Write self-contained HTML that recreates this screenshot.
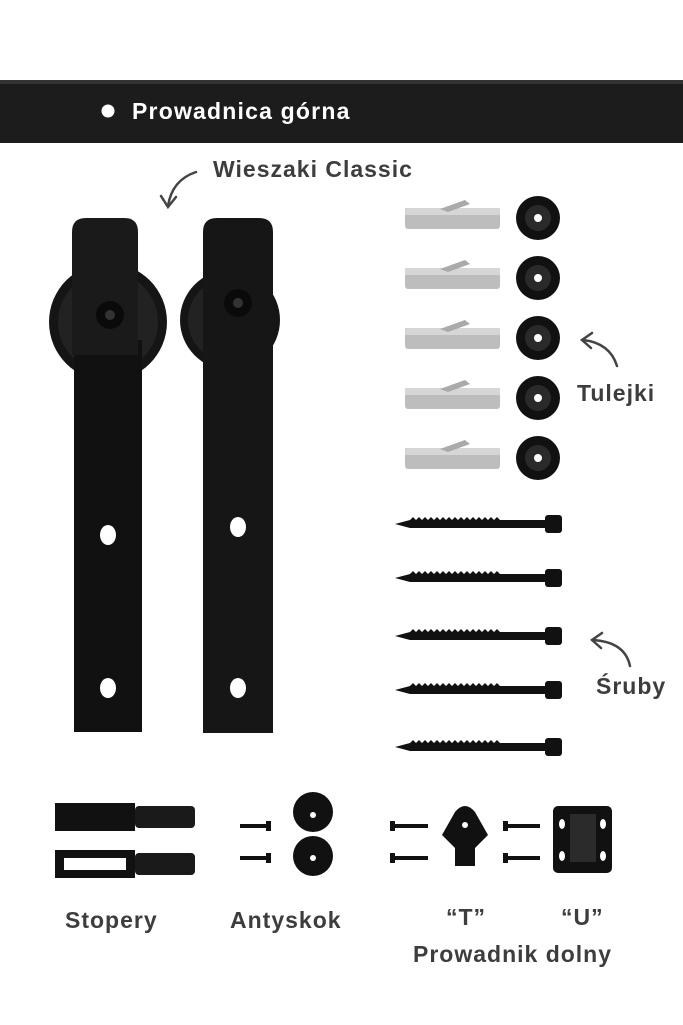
<!DOCTYPE html>
<html><head><meta charset="utf-8"><style>
html,body{margin:0;padding:0;background:#fff;}
svg{display:block}
text{font-family:"Liberation Sans",sans-serif;font-weight:bold;}
</style></head><body>
<svg width="683" height="1025" viewBox="0 0 683 1025" xmlns="http://www.w3.org/2000/svg">
<rect width="683" height="1025" fill="#fff"/>
<rect x="0" y="80" width="683" height="63" fill="#1c1c1c"/>
<rect x="0" y="80" width="683" height="4" fill="#333"/>
<circle cx="108" cy="111" r="6.5" fill="#fff"/>
<text x="132" y="119" font-size="23" letter-spacing="1.2" fill="#fff">Prowadnica górna</text>

<g fill="#3d3d3d" font-size="23" letter-spacing="1">
<text x="213" y="177">Wieszaki Classic</text>
<text x="577" y="401">Tulejki</text>
<text x="596" y="694">Śruby</text>
<text x="65" y="928">Stopery</text>
<text x="230" y="928">Antyskok</text>
<text x="446" y="925">“T”</text>
<text x="561" y="925">“U”</text>
<text x="413" y="962">Prowadnik dolny</text>
</g>
<g fill="none" stroke="#444" stroke-width="2.5" stroke-linecap="round">
<path d="M196 172 Q172 180 168 206"/><path d="M161 196 L168 207 L176 197"/>
<path d="M617 366 Q610 343 583 340"/><path d="M592 333 L582 340 L591 348"/>
<path d="M630 666 Q625 642 593 640"/><path d="M602 633 L592 640 L601 648"/>
</g>

<circle cx="108" cy="322" r="59" fill="#151515"/>
<circle cx="108" cy="322" r="50" fill="#222"/>
<rect x="74" y="340" width="68" height="392" fill="#111"/>
<path d="M72 355 L72 232 Q72 218 86 218 L124 218 Q138 218 138 232 L138 355 Z" fill="#1a1a1a"/>
<circle cx="110" cy="315" r="14" fill="#0a0a0a"/>
<circle cx="110" cy="315" r="5" fill="#333"/>
<ellipse cx="108" cy="535" rx="8" ry="10" fill="#fff"/>
<ellipse cx="108" cy="688" rx="8" ry="10" fill="#fff"/>

<circle cx="230" cy="320" r="50" fill="#151515"/>
<circle cx="230" cy="320" r="42" fill="#222"/>
<path d="M203 232 Q203 218 217 218 L259 218 Q273 218 273 232 L273 733 L203 733 Z" fill="#161616"/>
<circle cx="238" cy="303" r="14" fill="#0a0a0a"/>
<circle cx="238" cy="303" r="5" fill="#333"/>
<ellipse cx="238" cy="527" rx="8" ry="10" fill="#fff"/>
<ellipse cx="238" cy="688" rx="8" ry="10" fill="#fff"/>

<g id="anc">
<rect x="405" y="208" width="95" height="21" rx="3" fill="#bdbdbd"/>
<rect x="405" y="208" width="95" height="7" fill="#d6d6d6"/>
<path d="M440 209 L465 200 L470 204 L448 212 Z" fill="#aaa"/>
<circle cx="538" cy="218" r="22" fill="#111"/>
<circle cx="538" cy="218" r="13" fill="#2a2a2a"/>
<circle cx="538" cy="218" r="4" fill="#fff"/>
</g>
<use href="#anc" y="60"/><use href="#anc" y="120"/><use href="#anc" y="180"/><use href="#anc" y="240"/>

<g id="scr">
<path d="M395 524 L410 520 L545 520 L545 528 L410 528 Z" fill="#111"/>
<path d="M410 520 l3 -3 l3 3 l3 -3 l3 3 l3 -3 l3 3 l3 -3 l3 3 l3 -3 l3 3 l3 -3 l3 3 l3 -3 l3 3 l3 -3 l3 3 l3 -3 l3 3 l3 -3 l3 3 l3 -3 l3 3 l3 -3 l3 3 l3 -3 l3 3 l3 -3 l3 3 l3 -3 l3 3 Z" fill="#111"/>
<rect x="545" y="515" width="17" height="18" rx="3" fill="#111"/>
</g>
<use href="#scr" y="54"/><use href="#scr" y="112"/><use href="#scr" y="166"/><use href="#scr" y="223"/>

<rect x="55" y="803" width="80" height="28" fill="#111"/>
<rect x="135" y="806" width="60" height="22" rx="4" fill="#1a1a1a"/>
<rect x="55" y="850" width="80" height="28" fill="#111"/>
<rect x="64" y="858" width="62" height="12" fill="#fff"/>
<rect x="135" y="853" width="60" height="22" rx="4" fill="#1a1a1a"/>

<g fill="#111">
<rect x="240" y="824" width="30" height="4"/><rect x="266" y="821" width="5" height="10"/>
<rect x="240" y="856" width="30" height="4"/><rect x="266" y="853" width="5" height="10"/>
<circle cx="313" cy="812" r="20"/><circle cx="313" cy="856" r="20"/>
</g>
<circle cx="313" cy="815" r="3" fill="#fff"/><circle cx="313" cy="858" r="3" fill="#fff"/>

<g fill="#111">
<rect x="390" y="824" width="38" height="4"/><rect x="390" y="821" width="5" height="10"/>
<rect x="390" y="856" width="38" height="4"/><rect x="390" y="853" width="5" height="10"/>
<path d="M455 812 Q465 800 475 812 L488 835 L475 848 L475 866 L455 866 L455 848 L442 835 Z"/>
<rect x="503" y="824" width="37" height="4"/><rect x="503" y="821" width="5" height="10"/>
<rect x="503" y="856" width="37" height="4"/><rect x="503" y="853" width="5" height="10"/>
<rect x="553" y="806" width="59" height="67" rx="5"/>
</g>
<circle cx="465" cy="825" r="3" fill="#fff"/>
<rect x="570" y="814" width="26" height="48" fill="#2b2b2b"/>
<ellipse cx="562" cy="824" rx="3" ry="5" fill="#fff"/><ellipse cx="603" cy="824" rx="3" ry="5" fill="#fff"/>
<ellipse cx="562" cy="856" rx="3" ry="5" fill="#fff"/><ellipse cx="603" cy="856" rx="3" ry="5" fill="#fff"/>
</svg>
</body></html>
